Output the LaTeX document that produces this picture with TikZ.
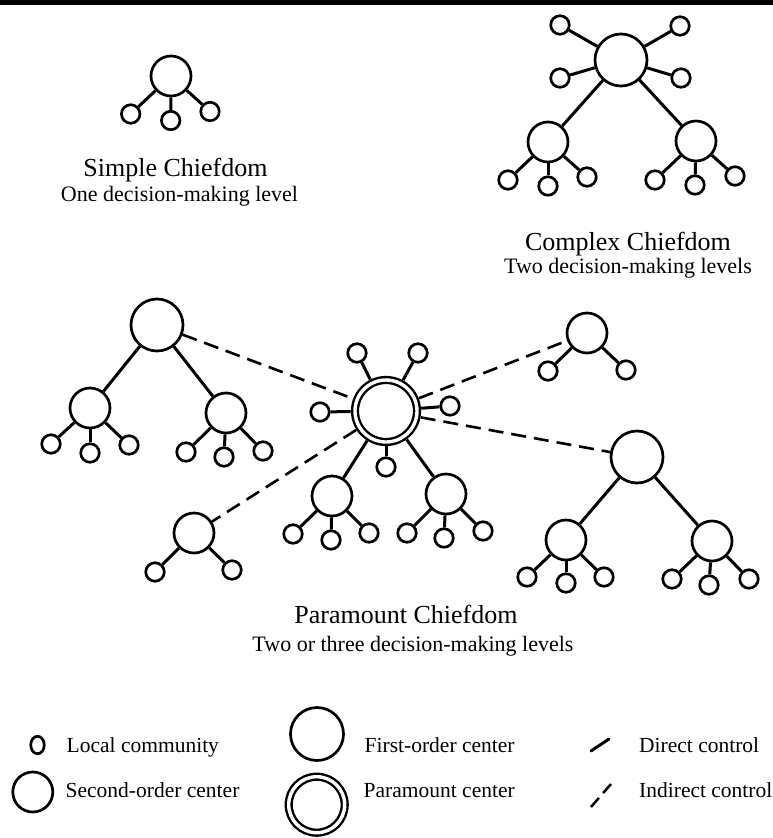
\documentclass[tikz,border=0pt]{standalone}
\usepackage{fontspec}
\setmainfont{Liberation Serif}
\usetikzlibrary{shapes.geometric}
\begin{document}
\begin{tikzpicture}[x=1pt,y=-1pt,
  ring/.style={draw=black,line width=2.7pt,fill=white,inner sep=0pt,circle},
  loc/.style={ring,minimum size=18.5pt},
  locsmall/.style={ring,ellipse,minimum width=13.5pt,minimum height=17.5pt},
  sec/.style={ring,minimum size=40pt},
  fst/.style={ring,minimum size=52pt},
  para/.style={circle,draw=black,line width=2.4pt,double=white,double distance=3.4pt,
    fill=white,inner sep=0pt,minimum size=#1,outer sep=4.3pt},
  ctl/.style={line width=3pt},
  ind/.style={line width=2.6pt,dash pattern=on 15pt off 8pt},
  ttl/.style={font=\fontsize{26}{30}\selectfont,inner sep=0pt,anchor=base},
  subttl/.style={font=\fontsize{22}{26}\selectfont,inner sep=0pt,anchor=base},
  leg/.style={font=\fontsize{21.5}{25}\selectfont,inner sep=0pt,anchor=base west}]
\useasboundingbox (0,0) rectangle (773,838);
\fill[white] (0,0) rectangle (773,838);
\fill[black] (0,0) rectangle (773,5);

% ---------- Simple chiefdom ----------
\node[sec] (s0) at (171,76) {};
\node[loc] (s1) at (130.7,114) {};
\node[loc] (s2) at (170.7,120.5) {};
\node[loc] (s3) at (210,111.5) {};
\foreach \a/\b in {s0/s1,s0/s2,s0/s3} \draw[ctl] (\a) -- (\b);
\node[ttl] (tS) at (175.5,176) {Simple Chiefdom};
\node[subttl] (tS2) at (179.5,201.7) {One decision-making level};

% ---------- Complex chiefdom ----------
\node[fst] (c0) at (621,60) {};
\node[loc] (c1) at (560,25) {};
\node[loc] (c2) at (680,26) {};
\node[loc] (c3) at (560,78) {};
\node[loc] (c4) at (681,78) {};
\node[sec] (c5) at (548,142) {};
\node[sec] (c6) at (696,141) {};
\node[loc] (c7) at (508,180) {};
\node[loc] (c8) at (548,186) {};
\node[loc] (c9) at (587,177) {};
\node[loc] (c10) at (655,180) {};
\node[loc] (c11) at (695,185) {};
\node[loc] (c12) at (735,176) {};
\foreach \a/\b in {c0/c1,c0/c2,c0/c3,c0/c4,c0/c5,c0/c6,c5/c7,c5/c8,c5/c9,c6/c10,c6/c11,c6/c12}
  \draw[ctl] (\a) -- (\b);
\node[ttl] (tC) at (628,250) {Complex Chiefdom};
\node[subttl] (tC2) at (628,273) {Two decision-making levels};

% ---------- Paramount chiefdom ----------
\node[para=62pt] (p0) at (386,411) {};
\node[loc] (p1) at (357,353) {};
\node[loc] (p2) at (418,353) {};
\node[loc] (p3) at (320,412) {};
\node[loc] (p4) at (450,406) {};
\node[loc] (p5) at (386,467) {};
\node[sec] (p6) at (332,496) {};
\node[sec] (p7) at (446,494) {};
\node[loc] (p8) at (293,534) {};
\node[loc] (p9) at (331,540) {};
\node[loc] (p10) at (369,533) {};
\node[loc] (p11) at (407,533) {};
\node[loc] (p12) at (444,538) {};
\node[loc] (p13) at (483,531) {};
\foreach \a/\b in {p0/p1,p0/p2,p0/p3,p0/p4,p0/p5,p0/p6,p0/p7,p6/p8,p6/p9,p6/p10,p7/p11,p7/p12,p7/p13}
  \draw[ctl] (\a) -- (\b);

% left first-order tree
\node[fst] (l0) at (157,325) {};
\node[sec] (l1) at (90,408) {};
\node[sec] (l2) at (226,413) {};
\node[loc] (l3) at (51,444) {};
\node[loc] (l4) at (90,453) {};
\node[loc] (l5) at (129,445) {};
\node[loc] (l6) at (186,452) {};
\node[loc] (l7) at (224,457) {};
\node[loc] (l8) at (263,451) {};
\foreach \a/\b in {l0/l1,l0/l2,l1/l3,l1/l4,l1/l5,l2/l6,l2/l7,l2/l8}
  \draw[ctl] (\a) -- (\b);

% top-right second-order
\node[sec] (t0) at (587,333) {};
\node[loc] (t1) at (548,371) {};
\node[loc] (t2) at (626,370) {};
\foreach \a/\b in {t0/t1,t0/t2} \draw[ctl] (\a) -- (\b);

% right first-order tree
\node[fst] (r0) at (637,457) {};
\node[sec] (r1) at (566,540) {};
\node[sec] (r2) at (712,541) {};
\node[loc] (r3) at (527,577) {};
\node[loc] (r4) at (566,583) {};
\node[loc] (r5) at (604,577) {};
\node[loc] (r6) at (672,579) {};
\node[loc] (r7) at (709,585) {};
\node[loc] (r8) at (749,579) {};
\foreach \a/\b in {r0/r1,r0/r2,r1/r3,r1/r4,r1/r5,r2/r6,r2/r7,r2/r8}
  \draw[ctl] (\a) -- (\b);

% bottom-left second-order
\node[sec] (b0) at (194,533) {};
\node[loc] (b1) at (155,572) {};
\node[loc] (b2) at (232,570) {};
\foreach \a/\b in {b0/b1,b0/b2} \draw[ctl] (\a) -- (\b);

% indirect control
\foreach \a/\b in {l0/p0,p0/t0,p0/r0,p0/b0} \draw[ind] (\a) -- (\b);

\node[ttl] (tP) at (406,623) {Paramount Chiefdom};
\node[subttl] (tP2) at (413,651) {Two or three decision-making levels};

% ---------- Legend ----------
\node[locsmall] (gl) at (37.5,745) {};
\node[leg] (glt) at (66.5,752.7) {Local community};
\node[sec] (gs) at (32.8,792) {};
\node[leg] (gst) at (65.5,797) {Second-order center};
\node[fst,minimum size=53pt] (gf) at (317,734) {};
\node[leg] (gft) at (364.5,752.7) {First-order center};
\node[para=56pt] (gp) at (316.7,804.7) {};
\node[leg] (gpt) at (363.5,797) {Paramount center};
\coordinate (d1) at (591,751);
\coordinate (d2) at (609,739);
\draw[ctl,line cap=round] (d1) -- (d2);
\node[leg] (gdt) at (639,752.7) {Direct control};
\coordinate (i1) at (591,807);
\coordinate (i2) at (611,784);
\draw[line width=2.5pt,dash pattern=on 12pt off 6.5pt] (i1) -- (i2);
\node[leg] (git) at (639,797) {Indirect control};
\end{tikzpicture}
\end{document}
